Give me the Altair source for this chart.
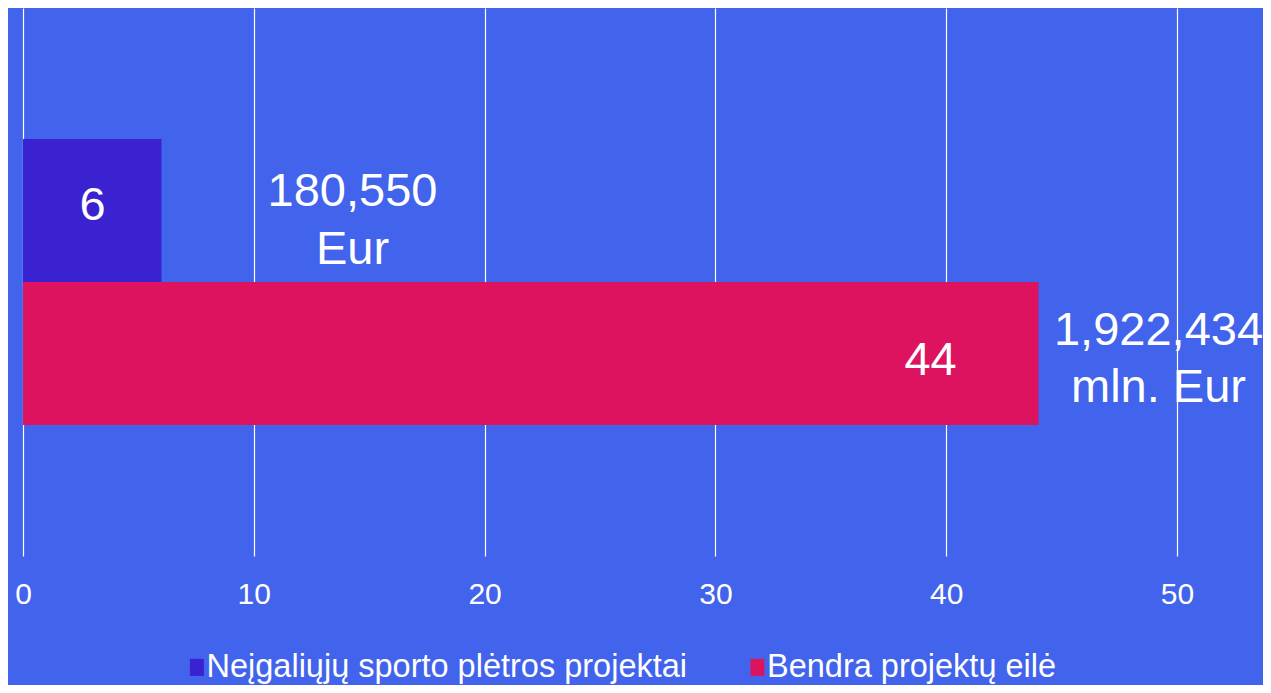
import altair as alt
import pandas as pd

series = ["Neįgaliųjų sporto plėtros projektai", "Bendra projektų eilė"]
counts = [6, 44]
amounts = ["180,550\nEur", "1,922,434\nmln. Eur"]
colors = ["#3A22D0", "#DE1360"]
tick_values = [0, 10, 20, 30, 40, 50]

df = pd.DataFrame({"series": series, "count": counts, "amount": amounts})

FONT = "Liberation Sans"
BG = "#4263EB"

x_enc = alt.X(
    "count:Q",
    scale=alt.Scale(domain=[0, 50], nice=False),
    axis=alt.Axis(
        values=tick_values, grid=True, gridColor="white", gridWidth=1.2,
        domain=False, ticks=False, labelColor="white", labelFontSize=30,
        labelFont=FONT, labelPadding=47, labelBaseline="alphabetic",
        labelFlush=False, title=None,
    ),
)
y_enc = alt.Y(
    "series:N", sort=series, axis=None,
    scale=alt.Scale(paddingInner=0, paddingOuter=0.916),
)

bars = alt.Chart(df).mark_bar().encode(
    x=x_enc,
    y=y_enc,
    color=alt.Color(
        "series:N", sort=series,
        scale=alt.Scale(domain=series, range=colors),
        legend=alt.Legend(
            title=None, orient="none", legendX=151, legendY=643,
            direction="horizontal", symbolType="M-0.07,-2H3.21V2H-0.07Z",
            symbolSize=72.25, symbolOffset=0,
            symbolStrokeWidth=0, labelFontSize=32.5, labelColor="white",
            labelFont=FONT, labelLimit=1000, columnPadding=46.5, labelOffset=0,
        ),
    ),
)


def label(idx, field, dx, dy, **kw):
    return alt.Chart(df).transform_filter(
        alt.datum.series == series[idx]
    ).mark_text(
        dx=dx, dy=dy, align="center", baseline="alphabetic", fontSize=47,
        color="white", font=FONT, **kw
    ).encode(
        x=alt.X("count:Q"),
        y=alt.Y("series:N", sort=series),
        text=alt.Text(field),
    )


layers = [
    bars,
    label(0, "count:Q", -69, 10),
    label(1, "count:Q", -108, 21),
    label(0, "amount:N", 191, -4, lineBreak="\n", lineHeight=58),
    label(1, "amount:N", 120, -9, lineBreak="\n", lineHeight=57),
]

chart = alt.layer(*layers).properties(
    width=1154, height=548,
    autosize=alt.AutoSizeParams(type="none"),
    padding={"left": 15, "top": 0, "right": 86, "bottom": 129},
    background=BG,
).configure_view(stroke=None)

chart.save("out.html", embed_options={"renderer": "svg", "actions": False})
